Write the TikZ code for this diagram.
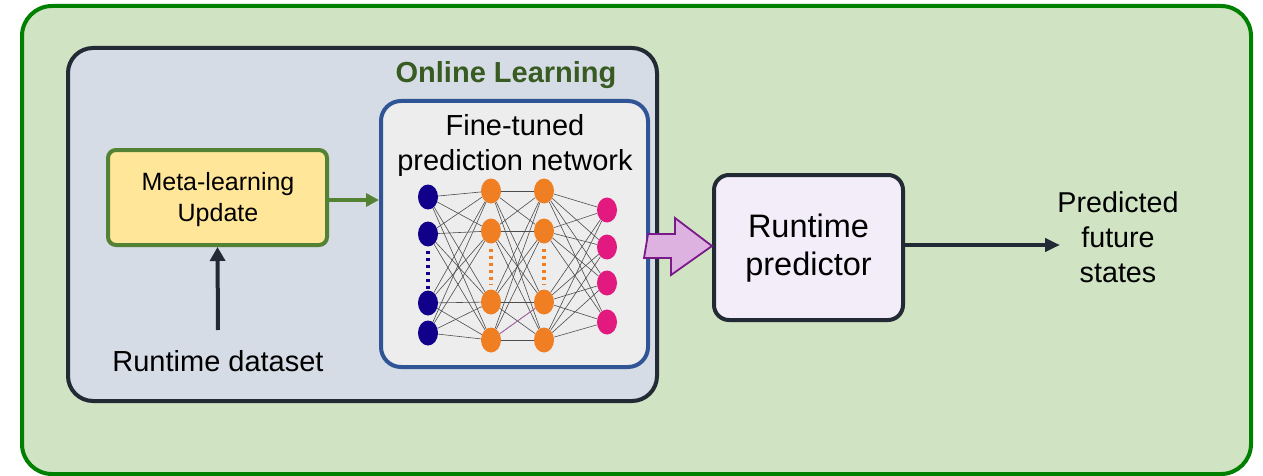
\documentclass[tikz,border=0pt]{standalone}
\usepackage{fontspec}
\setmainfont{Liberation Sans}
\usetikzlibrary{arrows.meta,shapes.geometric,calc}

\definecolor{outerfill}{HTML}{D0E3C3}
\definecolor{outerline}{HTML}{008000}
\definecolor{innerfill}{HTML}{D6DCE5}
\definecolor{darkline}{HTML}{222A35}
\definecolor{metafill}{HTML}{FFE699}
\definecolor{metaline}{HTML}{548235}
\definecolor{netfill}{HTML}{EDEDED}
\definecolor{netline}{HTML}{2F5597}
\definecolor{predfill}{HTML}{F3EDF9}
\definecolor{titlegreen}{HTML}{385B22}
\definecolor{inblue}{HTML}{10008A}
\definecolor{hidorange}{HTML}{F07F24}
\definecolor{outpink}{HTML}{E2197F}
\definecolor{blockfill}{HTML}{DDB2E0}
\definecolor{blockline}{HTML}{7A1A8A}

\tikzset{
  panel/.style={draw, rectangle, line width=4pt},
  neuron/.style={ellipse, draw=none, inner sep=0pt, minimum width=20pt, minimum height=25pt},
  synapse/.style={black!70, line width=0.6pt},
  gap/.style={line width=3.5pt, dash pattern=on 3.5pt off 3.5pt},
  label/.style={align=center, inner sep=0pt},
}

\begin{document}
\begin{tikzpicture}[x=1pt, y=-1pt]
\useasboundingbox (0,0) rectangle (1263,476);

% outer frame and online-learning panel
\node[panel, draw=outerline, fill=outerfill, rounded corners=30pt,
      minimum width=1229pt, minimum height=468pt] (outer) at (636.5,240) {};
\node[panel, draw=darkline, fill=innerfill, rounded corners=25pt,
      minimum width=589pt, minimum height=353pt] (online) at (362.5,224.5) {};
\node[label, text=titlegreen, font=\bfseries\fontsize{29}{34}\selectfont] (title) at (506,75) {Online Learning};

% meta-learning update block
\node[panel, draw=metaline, fill=metafill, rounded corners=8pt,
      minimum width=219pt, minimum height=95pt] (meta) at (217.5,197.5) {};
\node[label, font=\fontsize{25}{31}\selectfont] (metatext) at (218,200) {Meta-learning\\Update};

\node[label, font=\fontsize{29}{34}\selectfont] (data) at (218,361) {Runtime dataset};
\coordinate (datatop) at (218,330);

% prediction network block
\node[panel, draw=netline, fill=netfill, rounded corners=20pt,
      minimum width=267pt, minimum height=266pt] (net) at (514.5,234) {};
\node[label, font=\fontsize{29}{35}\selectfont] (nettext) at (515,146) {Fine-tuned\\prediction network};

% neurons
\foreach \i/\y in {1/197,2/234,3/303,4/333}
  \node[neuron, fill=inblue] (b\i) at (428,\y) {};
\foreach \i/\y in {1/191,2/231,3/302,4/340}
  \node[neuron, fill=hidorange] (o\i) at (491,\y) {};
\foreach \i/\y in {1/191,2/231,3/302,4/340}
  \node[neuron, fill=hidorange] (p\i) at (544,\y) {};
\foreach \i/\y in {1/210,2/247,3/283,4/322}
  \node[neuron, fill=outpink] (k\i) at (607,\y) {};

% fully connected weights
\foreach \a in {1,...,4}
  \foreach \b in {1,...,4} {
    \draw[synapse] (b\a) -- (o\b);
    \draw[synapse] (o\a) -- (p\b);
    \draw[synapse] (p\a) -- (k\b);
  }
\draw[violet!60, line width=0.7pt] (o4) -- (p3);

% elided neurons
\draw[gap, inblue] (b2.south) ++(0,4) -- ++(0,38);
\draw[gap, hidorange] (o2.south) ++(0,5) -- ++(0,36);
\draw[gap, hidorange] (p2.south) ++(0,5) -- ++(0,36);

% runtime predictor
\node[panel, draw=darkline, fill=predfill, rounded corners=15pt,
      minimum width=189pt, minimum height=145pt] (pred) at (808.5,247.5) {};
\node[label, font=\fontsize{32.5}{38}\selectfont] (predtext) at (808.5,248) {Runtime\\predictor};

\node[label, font=\fontsize{28.7}{35}\selectfont] (states) at (1118,237) {Predicted\\future\\states};
\coordinate (statesin) at (1060,245);

% connectors
\draw[metaline, line width=3.5pt, -{Triangle[length=13pt,width=13pt]}] (meta.east |- 0,200) -- (net.west |- 0,200);
\draw[darkline, line width=4pt, -{Triangle[length=14pt,width=15pt]}] (datatop) -- (meta.south);
\draw[darkline, line width=4pt, -{Triangle[length=15pt,width=13pt]}] (pred.east |- statesin) -- (statesin);

% block arrow from the network into the predictor
\draw[blockline, fill=blockfill, line width=1.8pt, line join=miter]
  ($(net.east)+(-2,0)$) -- ++(27,0) -- ++(0,-16) -- (pred.west |- 0,246) -- ++(-41,29) -- ++(0,-17) -- ++(-27,0) -- cycle;
\end{tikzpicture}
\end{document}
